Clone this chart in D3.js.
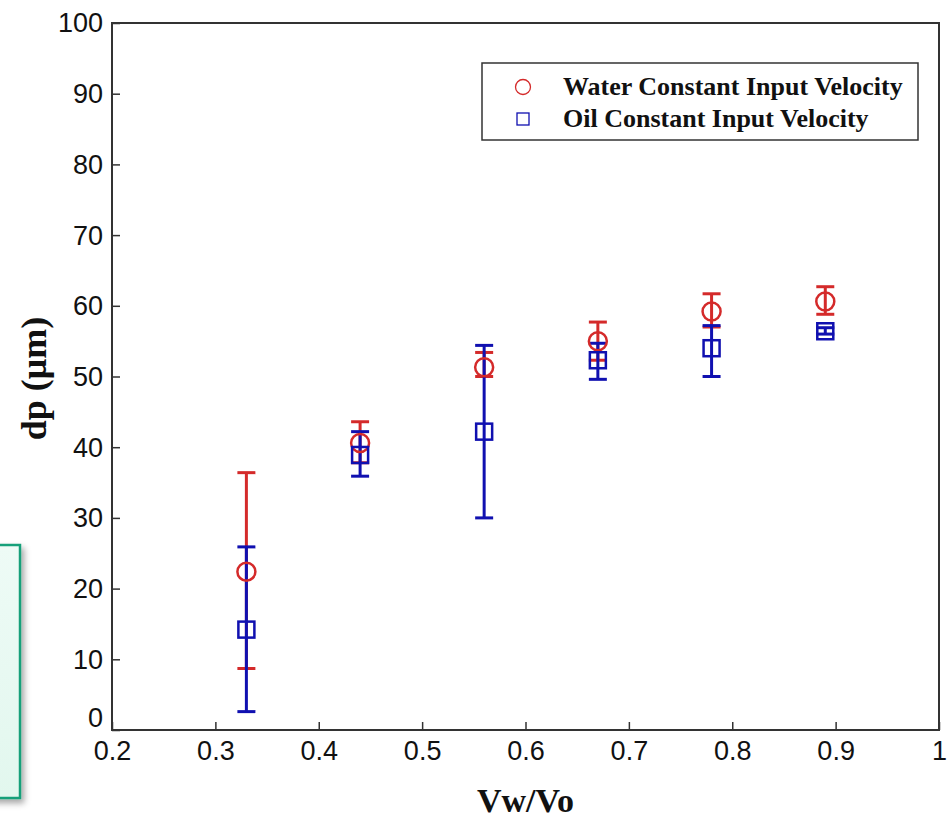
<!DOCTYPE html>
<html>
<head>
<meta charset="utf-8">
<script src="https://cdn.jsdelivr.net/npm/d3@7"></script>
<style>
  body { margin: 0; background: #fff; }
  svg { display: block; }
  .tick text { font-family: "Liberation Sans", Arial, sans-serif; font-size: 27px; fill: #111; }
  .lbl { font-family: "Liberation Serif", "Times New Roman", serif; font-weight: bold; fill: #111; }
</style>
</head>
<body>
<div id="chart"></div>
<script>
// ratio values on x
var ratios = [0.33, 0.44, 0.56, 0.67, 0.78, 0.89];

// water constant input velocity: mean, low, high
var waterMean = [22.4, 40.6, 51.3, 55.0, 59.2, 60.6];
var waterLow  = [8.7, 37.8, 50.0, 52.3, 57.0, 58.8];
var waterHigh = [36.4, 43.6, 53.4, 57.7, 61.7, 62.7];

// oil constant input velocity: mean, low, high
var oilMean = [14.2, 38.9, 42.2, 52.3, 54.0, 56.4];
var oilLow  = [2.6, 35.9, 30.0, 49.6, 50.0, 56.0];
var oilHigh = [25.9, 42.2, 54.4, 54.7, 57.2, 56.9];

var xTicks = [0.2, 0.3, 0.4, 0.5, 0.6, 0.7, 0.8, 0.9, 1];
var yTicks = [0, 10, 20, 30, 40, 50, 60, 70, 80, 90, 100];

var W = 950, H = 819;
var margin = {top: 23, right: 11, bottom: 89, left: 112};
var width = W - margin.left - margin.right,
    height = H - margin.top - margin.bottom;

var red = "#d42a2a", blue = "#1010b0";

var svg = d3.select("#chart").append("svg")
    .attr("width", W)
    .attr("height", H);

// green note box on the left, partly off the page
var defs = svg.append("defs");
var grad = defs.append("linearGradient").attr("id", "mint")
    .attr("x1", 0).attr("y1", 0).attr("x2", 0).attr("y2", 1);
grad.append("stop").attr("offset", "0%").attr("stop-color", "#eefbf6");
grad.append("stop").attr("offset", "100%").attr("stop-color", "#e2f7ee");
var shadow = defs.append("filter").attr("id", "shadow")
    .attr("x", "-50%").attr("y", "-10%").attr("width", "200%").attr("height", "130%");
shadow.append("feDropShadow").attr("dx", 3).attr("dy", 4).attr("stdDeviation", 3)
    .attr("flood-color", "#000").attr("flood-opacity", 0.35);

svg.append("rect")
    .attr("x", -20).attr("y", 545)
    .attr("width", 40).attr("height", 253)
    .attr("fill", "url(#mint)")
    .attr("stroke", "#18a07a")
    .attr("stroke-width", 2.5)
    .attr("filter", "url(#shadow)");

var g = svg.append("g")
    .attr("transform", "translate(" + margin.left + "," + margin.top + ")");

var x = d3.scaleLinear().domain([0.2, 1]).range([0, width]);
var y = d3.scaleLinear().domain([0, 100]).range([height, 0]);

// axes with inward ticks (matlab style)
var xAxis = d3.axisBottom(x)
    .tickValues(xTicks)
    .tickSize(-8)
    .tickPadding(8)
    .tickFormat(function (d) { return d === 1 ? "1" : d3.format(".1f")(d); });

var yAxis = d3.axisLeft(y)
    .tickValues(yTicks)
    .tickSize(-8)
    .tickPadding(9)
    .tickFormat(d3.format("d"));

var gx = g.append("g")
    .attr("transform", "translate(0," + height + ")")
    .call(xAxis);
gx.selectAll("text").attr("dy", "0.82em");

var gy = g.append("g").call(yAxis);
gy.selectAll("text").attr("dy", "0.33em");

[gx, gy].forEach(function (a) {
    a.select(".domain").remove();
    a.selectAll(".tick line").attr("stroke", "#333").attr("stroke-width", 1.5);
});
// 0 label sits a bit higher so it clears 0.2
gy.selectAll(".tick").filter(function (d) { return d === 0; })
    .select("text").attr("dy", "-0.12em");

// box
g.append("rect")
    .attr("x", 0).attr("y", 0)
    .attr("width", width).attr("height", height)
    .attr("fill", "none")
    .attr("stroke", "#333")
    .attr("stroke-width", 2);

function errorBars(mean, low, high, color) {
    var grp = g.append("g");
    var cap = 9;
    ratios.forEach(function (r, i) {
        var cx = x(r);
        grp.append("line")
            .attr("x1", cx).attr("x2", cx)
            .attr("y1", y(low[i])).attr("y2", y(high[i]))
            .attr("stroke", color).attr("stroke-width", 3);
        [low[i], high[i]].forEach(function (v) {
            grp.append("line")
                .attr("x1", cx - cap).attr("x2", cx + cap)
                .attr("y1", y(v)).attr("y2", y(v))
                .attr("stroke", color).attr("stroke-width", 3);
        });
    });
    return grp;
}

errorBars(waterMean, waterLow, waterHigh, red);
errorBars(oilMean, oilLow, oilHigh, blue);

// markers
g.append("g").selectAll("circle")
    .data(ratios)
    .enter()
    .append("circle")
    .attr("cx", function (d) { return x(d); })
    .attr("cy", function (d, i) { return y(waterMean[i]); })
    .attr("r", 9)
    .attr("fill", "none")
    .attr("stroke", red)
    .attr("stroke-width", 2.5);

g.append("g").selectAll("rect")
    .data(ratios)
    .enter()
    .append("rect")
    .attr("x", function (d) { return x(d) - 8; })
    .attr("y", function (d, i) { return y(oilMean[i]) - 8; })
    .attr("width", 16)
    .attr("height", 16)
    .attr("fill", "none")
    .attr("stroke", blue)
    .attr("stroke-width", 2.5);

// legend
var legend = g.append("g").attr("transform", "translate(" + (482 - margin.left) + "," + (63 - margin.top) + ")");
legend.append("rect")
    .attr("width", 436).attr("height", 77)
    .attr("fill", "#fff")
    .attr("stroke", "#333")
    .attr("stroke-width", 1.5);
legend.append("circle")
    .attr("cx", 41).attr("cy", 24).attr("r", 7.5)
    .attr("fill", "none").attr("stroke", red).attr("stroke-width", 1.3);
legend.append("rect")
    .attr("x", 35).attr("y", 50).attr("width", 12).attr("height", 12)
    .attr("fill", "none").attr("stroke", blue).attr("stroke-width", 1.3);
legend.append("text").attr("class", "lbl")
    .attr("x", 81).attr("y", 32)
    .style("font-size", "26px")
    .text("Water Constant Input Velocity");
legend.append("text").attr("class", "lbl")
    .attr("x", 81).attr("y", 64)
    .style("font-size", "26px")
    .text("Oil Constant Input Velocity");

// axis titles
svg.append("text").attr("class", "lbl")
    .attr("text-anchor", "middle")
    .attr("transform", "translate(46," + (margin.top + height / 2 + 2) + ") rotate(-90)")
    .style("font-size", "36px")
    .text("dp (\u03bcm)");

svg.append("text").attr("class", "lbl")
    .attr("text-anchor", "middle")
    .attr("x", margin.left + width / 2)
    .attr("y", 812)
    .style("font-size", "34px")
    .text("Vw/Vo");
</script>
</body>
</html>
